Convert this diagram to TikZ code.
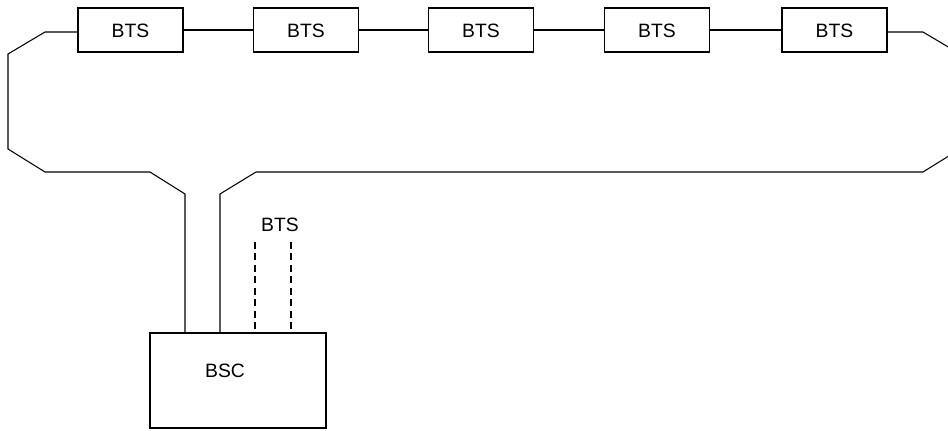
\documentclass[tikz,border=0pt]{standalone}
\usepackage{fontspec}
\setmainfont{Liberation Sans}
\usetikzlibrary{positioning}
\tikzset{
    btsnode/.style = {rectangle, draw=black, line width=0.6pt, minimum width=2.1cm, minimum height=0.88cm, inner sep=0pt, text height=8pt, text depth=-4pt, font=\fontsize{11}{13}\selectfont},
    bscnode/.style = {rectangle, draw=black, line width=0.6pt, minimum width=3.52cm, minimum height=1.9cm, inner sep=0pt},
    lbl/.style = {inner sep=0pt, font=\fontsize{11}{13}\selectfont},
    edgen/.style = {-, line width=0.6pt, black},
    edged/.style = {-, line width=0.6pt, black, dash pattern=on 4pt off 2.5pt},
}

\begin{document}
\begin{tikzpicture}[x=0.02cm,y=-0.02cm]
\clip (0,0) rectangle (948,430);
\node[btsnode] at (130.5, 30) (b1) {BTS};
\node[btsnode] at (306, 30) (b2) {BTS};
\node[btsnode] at (481, 30) (b3) {BTS};
\node[btsnode] at (657, 30) (b4) {BTS};
\node[btsnode] at (834.5, 30) (b5) {BTS};
\node[bscnode] at (238, 380.5) (bsc) {};
\node[lbl] at (225, 371) (bsclbl) {BSC};
\node[lbl] at (280, 225) (btslbl) {BTS};
%
\coordinate (p1) at (185, 333);
\coordinate (p2) at (220, 333);
\coordinate (p3) at (255, 333);
\coordinate (p4) at (291, 333);
\coordinate (d3) at (255, 242);
\coordinate (d4) at (291, 242);
%
\draw[edgen] (b1) -- (b2);
\draw[edgen] (b2) -- (b3);
\draw[edgen] (b3) -- (b4);
\draw[edgen] (b4) -- (b5);
\draw[edgen] (b1.west |- 0,32) -- (45, 32) -- (8, 54) -- (8, 149) -- (45, 172) -- (150, 172) -- (185, 194) -- (p1);
\draw[edgen] (b5.east |- 0,32) -- (923, 32) -- (960, 54) -- (960, 149) -- (923, 172) -- (256, 172) -- (220, 194) -- (p2);
\draw[edged] (d3) -- (p3);
\draw[edged] (d4) -- (p4);

\end{tikzpicture}
\end{document}
